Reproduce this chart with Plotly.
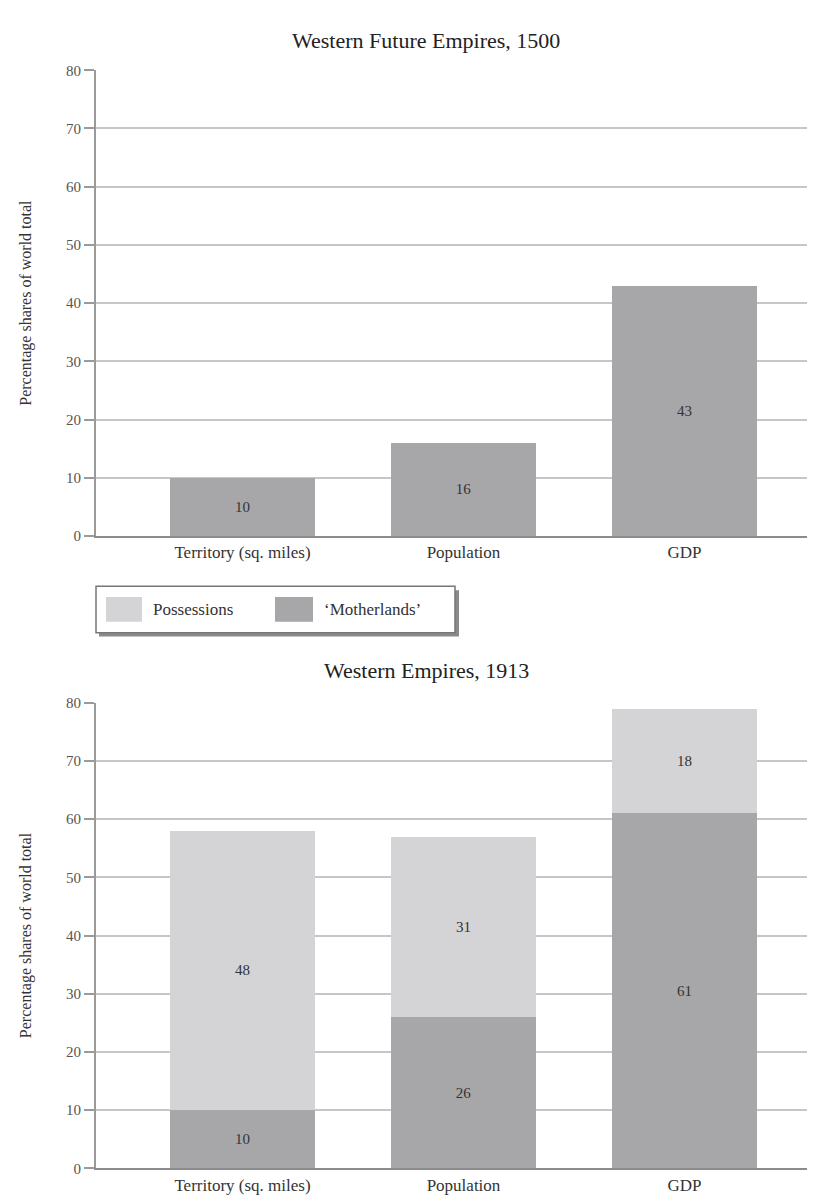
import plotly.graph_objects as go

categories = ["Territory (sq. miles)", "Population", "GDP"]
motherlands_1500 = [10, 16, 43]
motherlands_1913 = [10, 26, 61]
possessions_1913 = [48, 31, 18]
y_ticks = [0, 10, 20, 30, 40, 50, 60, 70, 80]

title_1500 = "Western Future Empires, 1500"
title_1913 = "Western Empires, 1913"
y_title = "Percentage shares of world total"
legend_names = ["Possessions", "\u2018Motherlands\u2019"]

C_MOTHER = "#a7a7aa"
C_POSS = "#d4d4d6"
FONT = "Liberation Serif"
TXT = "#333333"

W, H = 815, 1196

def px_x(p):
    return p / W

def px_y(p):
    return 1 - p / H

fig = go.Figure()

bar_w = 0.66
fig.add_trace(go.Bar(x=categories, y=motherlands_1500, name=legend_names[1],
                     marker=dict(color=C_MOTHER, line=dict(width=0)), width=bar_w,
                     text=[str(v) for v in motherlands_1500], textposition="inside",
                     insidetextanchor="middle", textangle=0,
                     textfont=dict(family=FONT, size=15, color=TXT),
                     xaxis="x", yaxis="y", showlegend=False))
fig.add_trace(go.Bar(x=categories, y=motherlands_1913, name=legend_names[1],
                     marker=dict(color=C_MOTHER, line=dict(width=0)), width=bar_w,
                     text=[str(v) for v in motherlands_1913], textposition="inside",
                     insidetextanchor="middle", textangle=0,
                     textfont=dict(family=FONT, size=15, color=TXT),
                     xaxis="x2", yaxis="y2", showlegend=False))
fig.add_trace(go.Bar(x=categories, y=possessions_1913, name=legend_names[0],
                     marker=dict(color=C_POSS, line=dict(width=0)), width=bar_w,
                     text=[str(v) for v in possessions_1913], textposition="inside",
                     insidetextanchor="middle", textangle=0,
                     textfont=dict(family=FONT, size=15, color=TXT),
                     xaxis="x2", yaxis="y2", showlegend=False))

x_range = [-0.663, 2.627]
xdom = [px_x(88), 1.0]

common_x = dict(type="category", range=x_range, showgrid=False, showline=True,
                linecolor="#8c8c8c", linewidth=2, ticks="",
                tickfont=dict(family=FONT, size=17, color=TXT), fixedrange=True)
common_y = dict(range=[0, 80], tickvals=y_ticks, showgrid=True, gridcolor="#c6c6c6",
                gridwidth=2, showline=True, linecolor="#9a9a9a", linewidth=2,
                ticks="outside", ticklen=10, tickcolor="#9a9a9a", tickwidth=1.5,
                tickfont=dict(family=FONT, size=15, color="#555555"), zeroline=False,
                title=dict(text=y_title, font=dict(family=FONT, size=16, color=TXT), standoff=30))

fig.update_layout(
    width=W, height=H,
    margin=dict(l=0, r=0, t=0, b=0),
    paper_bgcolor="white", plot_bgcolor="white",
    barmode="stack",
    showlegend=False,
    xaxis=dict(domain=xdom, anchor="y", **common_x),
    yaxis=dict(domain=[px_y(527), px_y(55)], anchor="x", **common_y),
    xaxis2=dict(domain=xdom, anchor="y2", **common_x),
    yaxis2=dict(domain=[px_y(1168), px_y(696)], anchor="x2", **common_y),
)

annotations = [
    dict(text=title_1500, x=px_x(418), y=px_y(25), xref="paper", yref="paper",
         showarrow=False, font=dict(family=FONT, size=22, color="#222222"),
         xanchor="center", yanchor="middle"),
    dict(text=title_1913, x=px_x(418), y=px_y(663), xref="paper", yref="paper",
         showarrow=False, font=dict(family=FONT, size=22, color="#222222"),
         xanchor="center", yanchor="middle"),
    dict(text=legend_names[0], x=px_x(143), y=px_y(602), xref="paper", yref="paper",
         showarrow=False, font=dict(family=FONT, size=17, color=TXT),
         xanchor="left", yanchor="middle"),
    dict(text=legend_names[1], x=px_x(314), y=px_y(602), xref="paper", yref="paper",
         showarrow=False, font=dict(family=FONT, size=17, color=TXT),
         xanchor="left", yanchor="middle"),
]

shapes = [
    # legend shadow
    dict(type="rect", xref="paper", yref="paper", x0=px_x(91), x1=px_x(451),
         y0=px_y(629), y1=px_y(582), fillcolor="#8a8a8a", line=dict(width=0), layer="above"),
    # legend box
    dict(type="rect", xref="paper", yref="paper", x0=px_x(88), x1=px_x(447),
         y0=px_y(625), y1=px_y(578), fillcolor="white", line=dict(color="#777777", width=1.5),
         layer="above"),
    dict(type="rect", xref="paper", yref="paper", x0=px_x(98), x1=px_x(134),
         y0=px_y(614), y1=px_y(589), fillcolor=C_POSS, line=dict(width=0), layer="above"),
    dict(type="rect", xref="paper", yref="paper", x0=px_x(267), x1=px_x(305),
         y0=px_y(614), y1=px_y(589), fillcolor=C_MOTHER, line=dict(width=0), layer="above"),
]

fig.update_layout(annotations=annotations, shapes=shapes)
fig.write_html("out.html")
